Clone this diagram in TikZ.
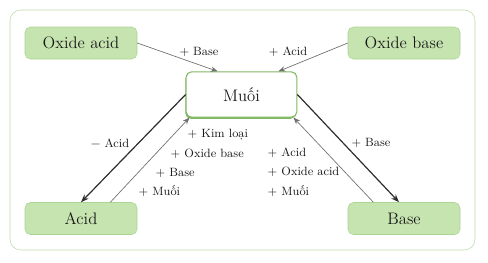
\documentclass[tikz,border=0pt]{standalone}
\usetikzlibrary{positioning, arrows.meta, shadows}
\definecolor{boxfill}{RGB}{198,228,176}
\definecolor{boxline}{RGB}{172,212,146}
\definecolor{frameline}{RGB}{186,218,166}
\definecolor{saltline}{RGB}{128,184,98}
\definecolor{darkarrow}{RGB}{45,45,45}
\definecolor{lightarrow}{RGB}{110,110,110}

\begin{document}
\begin{tikzpicture}[x=0.75pt, y=-0.75pt,
    every node/.style={font=\fontsize{9}{11}\selectfont, text=black!90},
    chembox/.style={draw=boxline, fill=boxfill, rounded corners=4pt,
      minimum width=84pt, minimum height=24pt, font=\fontsize{12.5}{15}\selectfont},
    saltbox/.style={draw=saltline, line width=0.8pt, fill=white, rounded corners=4pt,
      minimum width=83pt, minimum height=34pt, font=\fontsize{12.5}{15}\selectfont,
      drop shadow={shadow xshift=-0.6pt, shadow yshift=-1.2pt, fill=saltline, opacity=1}},
    forward/.style={-{Stealth[length=6pt,width=4.5pt]}, line width=0.9pt, draw=darkarrow},
    backward/.style={-{Stealth[length=5pt,width=4pt]}, line width=0.5pt, draw=lightarrow}]

      \useasboundingbox (0,0) rectangle (488,262);
      \draw[frameline, rounded corners=8pt] (10,10) rectangle (475,250);

      \node[chembox] (oxacid) at (81,43) {Oxide acid};
      \node[chembox] (oxbase) at (404,43) {Oxide base};
      \node[saltbox] (muoi) at (241.5,94.5) {Muối};
      \node[chembox] (acid) at (81,218.5) {Acid};
      \node[chembox] (base) at (404,218.5) {Base};

      \draw[backward] (oxacid.east) -- (muoi.136);
      \draw[backward] (oxbase.west) -- (muoi.32);
      \draw[forward] (muoi.west) -- (acid.north);
      \draw[backward] (acid.29) -- (muoi.204);
      \draw[forward] (muoi.east) -- (base.107);
      \draw[backward] (base.152) -- (muoi.336);

      \node (topbase) at (199,52) {+ Base};
      \node (topacid) at (288,52) {+ Acid};
      \node (minusacid) at (110,143) {− Acid};
      \node[anchor=west] (kimloai) at (183,135) {+ Kim loại};
      \node[anchor=west] (leftoxbase) at (166,154) {+ Oxide base};
      \node[anchor=west] (leftbase) at (151,173) {+ Base};
      \node[anchor=west] (leftmuoi) at (134,191) {+ Muối};

      \node (rightbase) at (371,143) {+ Base};
      \node[anchor=west] (rightacid) at (263,153) {+ Acid};
      \node[anchor=west] (rightoxacid) at (263,172) {+ Oxide acid};
      \node[anchor=west] (rightmuoi) at (263,191) {+ Muối};

    \end{tikzpicture}
\end{document}
